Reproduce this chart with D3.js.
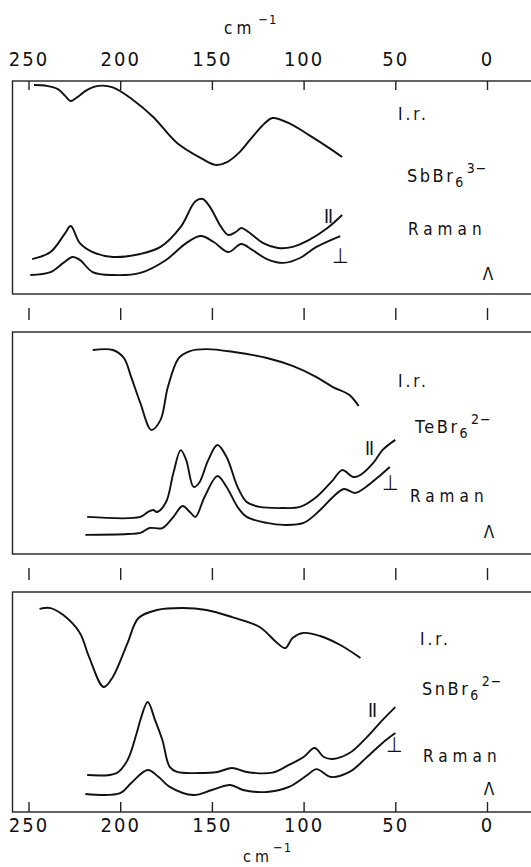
<!DOCTYPE html>
<meta charset="utf-8">
<script src="https://d3js.org/d3.v7.min.js"></script>
<style>
  body { margin: 0; background: #fff; }
  text { font-family: "DejaVu Sans Condensed", "DejaVu Sans", sans-serif; fill: #111; }
</style>
<div id="my_dataviz"></div>
<script>
// wavenumber ticks (cm-1)
var tickValues = [250, 200, 150, 100, 50, 0]

// spectra: [wavenumber cm-1, relative signal 0-100 of panel height]
// SbBr6 3-
var sbIR = [[247,98.1],[240,97.7],[234,96.2],[230,93.0],[227,90.6],[224,92.0],[218,95.8],[212,97.7],[204,97.0],[193,91.1],[182,83.1],[169,70.9],[156,63.8],[148,60.6],[142,61.8],[135,66.5],[128,73.7],[121,80.3],[117,82.6],[107,79.8],[97,74.6],[86,68.5],[79,64.3]]
var sbPar = [[248,16.4],[238,19.7],[230,28.6],[227,31.9],[222,23.9],[215,19.7],[204,17.4],[189,18.8],[178,22.1],[167,31.5],[159,43.5],[155,44.6],[151,40.8],[145,31.5],[141,27.7],[137,29.1],[134,31.0],[130,29.1],[122,23.9],[114,21.6],[106,22.1],[97,25.4],[87,31.0],[79,37.1]]
var sbPerp = [[249,8.9],[238,10.3],[231,14.6],[226,17.4],[222,16.0],[215,10.3],[204,8.9],[189,9.9],[175,16.0],[164,23.9],[156,27.2],[149,24.4],[141,19.7],[134,23.5],[128,20.7],[120,16.4],[111,14.6],[102,16.9],[93,22.1],[80,27.2]]

// TeBr6 2-
var teIR = [[215,91.9],[204,91.9],[198,88.3],[194,79.7],[189,68.0],[183,55.9],[178,60.4],[174,75.2],[168,88.3],[162,91.4],[153,92.3],[138,91.0],[120,88.3],[106,84.7],[93,79.7],[84,75.2],[75,71.6],[70,66.7]]
var tePar = [[218,16.7],[189,16.7],[185,18.9],[182,19.8],[180,18.9],[175,23.4],[171,36.5],[167,46.8],[164,42.3],[160,30.2],[157,32.0],[152,42.3],[147,49.1],[142,43.7],[136,30.2],[131,23.4],[124,21.2],[111,20.7],[102,21.2],[93,25.7],[84,33.3],[79,37.8],[73,34.7],[69,35.6],[62,41.0],[57,46.8],[50,51.4]]
var tePerp = [[219,8.6],[196,9.0],[189,9.5],[184,11.7],[177,11.7],[171,16.7],[166,21.6],[162,18.9],[159,16.7],[154,25.7],[147,35.1],[142,30.2],[136,21.2],[131,16.7],[120,14.0],[111,13.1],[100,14.0],[91,19.8],[84,25.7],[78,29.3],[72,27.5],[66,30.2],[58,35.6],[53,39.2]]

// SnBr6 2-
var snIR = [[244,92.3],[238,92.7],[231,89.5],[222,81.4],[217,70.5],[209,56.8],[204,61.4],[196,76.8],[190,88.2],[180,91.8],[166,92.7],[153,91.8],[139,88.6],[124,84.1],[115,77.3],[110,74.5],[106,79.1],[100,81.4],[91,80.0],[80,75.9],[69,70.0]]
var snPar = [[218,16.8],[202,17.7],[196,23.6],[191,35.9],[189,41.8],[185,50.0],[181,41.8],[177,32.7],[173,20.5],[169,18.2],[157,17.7],[147,18.2],[139,20.0],[131,18.2],[117,17.9],[108,21.4],[100,25.0],[94,29.1],[89,25.0],[84,24.1],[75,26.8],[66,33.6],[57,41.8],[50,47.7]]
var snPerp = [[219,8.2],[200,8.6],[194,13.2],[185,19.1],[179,15.9],[173,11.4],[160,7.7],[150,10.0],[140,12.3],[133,10.0],[120,9.1],[108,11.4],[98,16.8],[93,19.5],[85,15.9],[75,18.2],[66,24.5],[57,31.4],[50,35.9]]

var ionNames = ["SbBr", "TeBr", "SnBr"]
var ionCharges = ["3\u2212", "2\u2212", "2\u2212"]

var W = 531, H = 867

var svg = d3.select("#my_dataviz")
  .append("svg")
    .attr("width", W)
    .attr("height", H)

var x = d3.scaleLinear().domain([250, 0]).range([28.5, 487])

// panel boxes and label spots (pixels)
var panels = [
  {top: 81,  bottom: 294, ir: sbIR, par: sbPar, perp: sbPerp,
   irLab: [398, 120], ionLab: [407, 182], ramLab: [408, 235], lamLab: [488, 280], parLab: [324, 223], perpLab: [332, 263]},
  {top: 332, bottom: 554, ir: teIR, par: tePar, perp: tePerp,
   irLab: [398, 387], ionLab: [415, 433], ramLab: [410, 502], lamLab: [489, 538], parLab: [365, 455], perpLab: [382, 490]},
  {top: 592, bottom: 812, ir: snIR, par: snPar, perp: snPerp,
   irLab: [420, 645], ionLab: [422, 695], ramLab: [423, 762], lamLab: [489, 795], parLab: [368, 717], perpLab: [386, 752]}
]

var line = d3.line().curve(d3.curveCatmullRom.alpha(0.5))

panels.forEach(function(p, i) {
  var y = d3.scaleLinear().domain([0, 100]).range([p.bottom, p.top])
  line.x(function(d) { return x(d[0]) }).y(function(d) { return y(d[1]) })

  var g = svg.append("g")

  // frame (right side runs off the page)
  g.append("rect")
    .attr("x", 12.5).attr("y", p.top)
    .attr("width", 540).attr("height", p.bottom - p.top)
    .attr("fill", "none").attr("stroke", "#222").attr("stroke-width", 1.4)

  ;[p.ir, p.par, p.perp].forEach(function(s) {
    g.append("path")
      .datum(s)
      .attr("d", line)
      .attr("fill", "none")
      .attr("stroke", "#111")
      .attr("stroke-width", 1.9)
      .attr("stroke-linejoin", "round")
  })

  g.append("text").attr("x", p.irLab[0]).attr("y", p.irLab[1])
    .style("font-size", "17px").style("letter-spacing", "3px").text("I.r.")

  var ion = g.append("text").attr("x", p.ionLab[0]).attr("y", p.ionLab[1])
    .style("font-size", "18px").style("letter-spacing", "2.5px")
  ion.append("tspan").text(ionNames[i])
  ion.append("tspan").attr("dy", 5).style("font-size", "14px").text("6")
  ion.append("tspan").attr("dy", -14).attr("dx", 1).style("font-size", "14px").style("letter-spacing", "1px").text(ionCharges[i])

  g.append("text").attr("x", p.ramLab[0]).attr("y", p.ramLab[1])
    .style("font-size", "17px").style("letter-spacing", "5px").text("Raman")

  g.append("text").attr("x", p.lamLab[0]).attr("y", p.lamLab[1])
    .attr("text-anchor", "middle")
    .style("font-size", "17px").text("\u039b")

  g.append("text").attr("x", p.parLab[0]).attr("y", p.parLab[1])
    .style("font-size", "19px").style("letter-spacing", "-1px").text("II")
  g.append("text").attr("x", p.perpLab[0]).attr("y", p.perpLab[1])
    .style("font-size", "21px").text("\u22a5")
})

// top axis: ticks pointing into panel 1
var topAxis = svg.append("g")
  .attr("transform", "translate(0," + panels[0].top + ")")
  .call(d3.axisTop(x).tickValues(tickValues).tickSizeInner(-9).tickSizeOuter(0).tickPadding(15))
topAxis.select(".domain").remove()

// bottom axis: ticks pointing into panel 3
var botAxis = svg.append("g")
  .attr("transform", "translate(0," + panels[2].bottom + ")")
  .call(d3.axisBottom(x).tickValues(tickValues).tickSizeInner(-10).tickSizeOuter(0).tickPadding(6))
botAxis.select(".domain").remove()

// tick rows between panels
;[308, 568].forEach(function(yy) {
  var a = svg.append("g")
    .attr("transform", "translate(0," + yy + ")")
    .call(d3.axisBottom(x).tickValues(tickValues).tickSizeInner(12).tickSizeOuter(0).tickFormat(""))
  a.select(".domain").remove()
})

svg.selectAll(".tick line").attr("stroke", "#222").attr("stroke-width", 1.4)
svg.selectAll(".tick text")
  .attr("fill", "#111")
  .style("font-size", "20px")
  .style("letter-spacing", "2px")
  .style("font-family", "\"DejaVu Sans Condensed\", \"DejaVu Sans\", sans-serif")

// unit labels
var t1 = svg.append("text").attr("x", 224).attr("y", 34)
  .style("font-size", "17px").style("letter-spacing", "4px").text("cm")
t1.append("tspan").attr("dx", 3).attr("dy", -10).style("font-size", "13px").style("letter-spacing", "1px").text("\u22121")

var t2 = svg.append("text").attr("x", 243).attr("y", 862)
  .style("font-size", "16px").style("letter-spacing", "4px").text("cm")
t2.append("tspan").attr("dx", 0).attr("dy", -10).style("font-size", "13px").style("letter-spacing", "1px").text("\u22121")
</script>
